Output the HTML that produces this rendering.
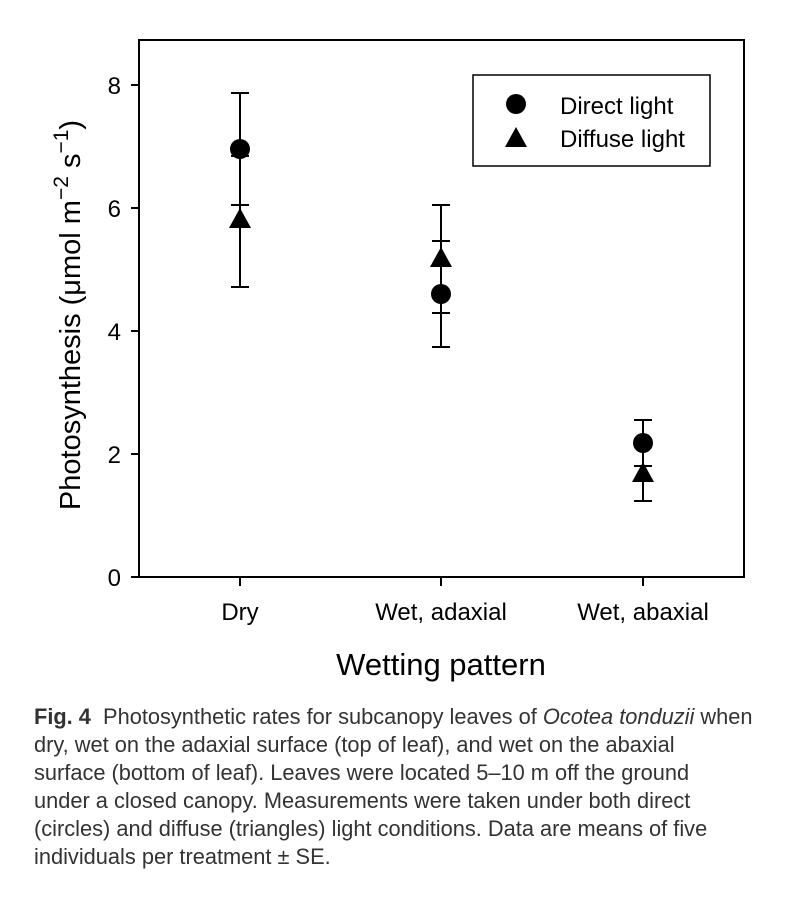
<!DOCTYPE html>
<html><head><meta charset="utf-8"><style>
body{margin:0;background:#fff;width:799px;height:899px;overflow:hidden}
.cap{position:absolute;left:34px;top:703px;font:21.8px/28px "Liberation Sans",sans-serif;color:#333;white-space:nowrap}
</style></head><body>
<svg width="799" height="700" style="position:absolute;left:0;top:0" font-family="Liberation Sans, sans-serif">
<g stroke="#000" stroke-width="2" fill="none">
<rect x="139" y="40" width="605" height="537"/>
<line x1="131" y1="85" x2="139" y2="85"/><line x1="131" y1="208" x2="139" y2="208"/>
<line x1="131" y1="331" x2="139" y2="331"/><line x1="131" y1="454" x2="139" y2="454"/>
<line x1="131" y1="577" x2="139" y2="577"/>
<line x1="240" y1="577" x2="240" y2="586"/><line x1="441" y1="577" x2="441" y2="586"/><line x1="643" y1="577" x2="643" y2="586"/>
<path d="M240 93V287M231 93H249M231 287H249M231 205H249M231 156H249"/>
<path d="M441 205V347M432 205H450M432 347H450M432 241H450M432 313H450"/>
<path d="M643 420V501M634 420H652M634 501H652M634 466H652"/>
<rect x="473" y="75" width="237" height="91" stroke-width="1.5"/>
</g>
<g fill="#000">
<circle cx="240" cy="149" r="10"/><path d="M240 208L251 228H229Z"/>
<circle cx="441" cy="294" r="10"/><path d="M441 247L452 267H430Z"/>
<circle cx="643" cy="443" r="10"/><path d="M643 462L654 482H632Z"/>
<circle cx="516" cy="104" r="10"/><path d="M516 127L527 147H505Z"/>
</g>
<g font-size="24" text-anchor="end">
<text x="121" y="94">8</text><text x="121" y="217">6</text><text x="121" y="340">4</text><text x="121" y="463">2</text><text x="121" y="586">0</text>
</g>
<g font-size="24" text-anchor="middle">
<text x="240" y="620">Dry</text><text x="441" y="620">Wet, adaxial</text><text x="643" y="620">Wet, abaxial</text>
<text x="441" y="675" font-size="31">Wetting pattern</text>
</g>
<g font-size="24"><text x="560" y="114">Direct light</text><text x="560" y="147">Diffuse light</text></g>
<text transform="translate(80,315) rotate(-90)" text-anchor="middle" font-size="29">Photosynthesis (μmol m<tspan dy="-12" font-size="21">−2</tspan><tspan dy="12"> s</tspan><tspan dy="-12" font-size="21">−1</tspan><tspan dy="12">)</tspan></text>
</svg>
<div class="cap"><b>Fig. 4</b>&nbsp; Photosynthetic rates for subcanopy leaves of <i>Ocotea tonduzii</i> when<br>dry, wet on the adaxial surface (top of leaf), and wet on the abaxial<br>surface (bottom of leaf). Leaves were located 5–10 m off the ground<br>under a closed canopy. Measurements were taken under both direct<br>(circles) and diffuse (triangles) light conditions. Data are means of five<br>individuals per treatment ± SE.</div>
</body></html>
